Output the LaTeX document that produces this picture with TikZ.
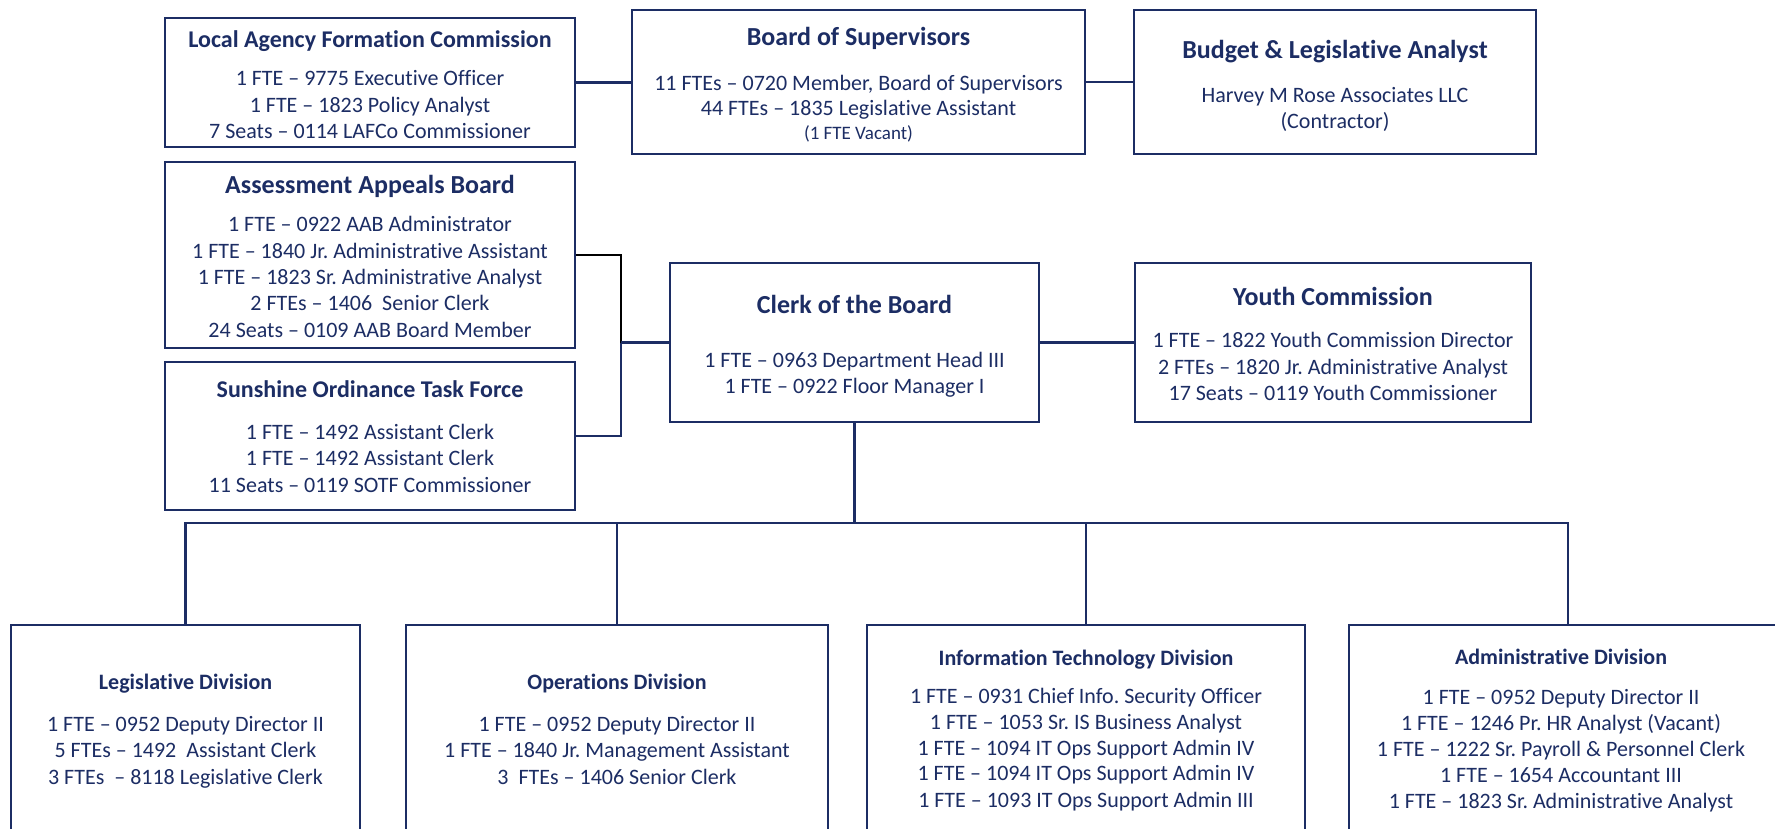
\documentclass[tikz,border=0pt]{standalone}
\usepackage{fontspec}
\setmainfont{Carlito}[Ligatures={NoCommon}]
\definecolor{navy}{RGB}{28,45,100}
\frenchspacing
\begin{document}
\begin{tikzpicture}[x=1pt,y=-1pt,
 box/.style={draw=navy,line width=2.6pt,inner sep=0pt},
 ln/.style={draw=navy,line width=2.2pt},
 ttl/.style={font=\fontsize{26}{30}\selectfont\bfseries,text=navy,anchor=base,inner sep=0pt},
 ttls/.style={ttl,font=\fontsize{24}{28}\selectfont\bfseries},
 dttl/.style={ttl,font=\fontsize{22}{26}\selectfont\bfseries},
 bd/.style={font=\fontsize{22}{26}\selectfont,text=navy,anchor=base,inner sep=0pt},
 sm/.style={bd,font=\fontsize{19}{22}\selectfont}]
\useasboundingbox (0,0) rectangle (1775,828);
\clip (0,0) rectangle (1775,828);
\fill[white] (0,0) rectangle (1775,828);

% boxes
\node[box,minimum width=410pt,minimum height=129pt] (lafc) at (370,82.5) {};
\node[box,minimum width=453pt,minimum height=144pt] (bos) at (858.5,82) {};
\node[box,minimum width=402pt,minimum height=144pt] (bla) at (1335,82) {};
\node[box,minimum width=410pt,minimum height=186pt] (aab) at (370,255) {};
\node[box,minimum width=410pt,minimum height=148pt] (sotf) at (370,436) {};
\node[box,minimum width=369pt,minimum height=159pt] (clerk) at (854.5,342.5) {};
\node[box,minimum width=396pt,minimum height=159pt] (youth) at (1333,342.5) {};
\node[box,minimum width=349pt,minimum height=225pt] (leg) at (185.5,737.5) {};
\node[box,minimum width=422pt,minimum height=225pt] (ops) at (617,737.5) {};
\node[box,minimum width=438pt,minimum height=225pt] (it) at (1086,737.5) {};
\node[box,minimum width=438pt,minimum height=225pt] (adm) at (1568,737.5) {};

% connectors
\draw[ln] (lafc.east) -- (bos.west |- lafc.east);
\draw[ln] (bos.east) -- (bla.west);
\coordinate (jn) at (621,342.5);
\draw[line width=2.2pt,black] (aab.east) -| (jn);
\draw[ln] (jn) |- (sotf.east);
\draw[ln] (jn) -- (clerk.west);
\draw[ln] (clerk.east) -- (youth.west);
\coordinate (bus) at (854.5,523);
\draw[ln] (clerk.south) -- (bus);
\draw[ln] (leg.north) |- (bus);
\draw[ln] (adm.north) |- (bus);
\draw[ln] (ops.north) -- (ops.north |- bus);
\draw[ln] (it.north) -- (it.north |- bus);

% LAFC
\node[ttls] (lafc-t) at (370,47.5) {Local Agency Formation Commission};
\node[bd] (lafc-1) at (370,85) {1 FTE – 9775 Executive Officer};
\node[bd] (lafc-2) at (370,112) {1 FTE – 1823 Policy Analyst};
\node[bd] (lafc-3) at (370,138) {7 Seats – 0114 LAFCo Commissioner};

% BoS
\node[ttl] (bos-t) at (858.5,45) {Board of Supervisors};
\node[bd] (bos-1) at (858.5,90) {11 FTEs – 0720 Member, Board of Supervisors};
\node[bd] (bos-2) at (858.5,115) {44 FTEs – 1835 Legislative Assistant};
\node[sm] (bos-3) at (858.5,139) {(1 FTE Vacant)};

% Budget
\node[ttl] (bla-t) at (1335,58) {Budget \& Legislative Analyst};
\node[bd] (bla-1) at (1335,102) {Harvey M Rose Associates LLC};
\node[bd] (bla-2) at (1335,128) {(Contractor)};

% AAB
\node[ttl] (aab-t) at (370,193) {Assessment Appeals Board};
\node[bd] (aab-1) at (370,231) {1 FTE – 0922 AAB Administrator};
\node[bd] (aab-2) at (370,258) {1 FTE – 1840 Jr. Administrative Assistant};
\node[bd] (aab-3) at (370,284) {1 FTE – 1823 Sr. Administrative Analyst};
\node[bd] (aab-4) at (370,310) {2 FTEs – 1406\ \ Senior Clerk};
\node[bd] (aab-5) at (370,337) {24 Seats – 0109 AAB Board Member};

% SOTF
\node[ttls] (sotf-t) at (370,397) {Sunshine Ordinance Task Force};
\node[bd] (sotf-1) at (370,439) {1 FTE – 1492 Assistant Clerk};
\node[bd] (sotf-2) at (370,465) {1 FTE – 1492 Assistant Clerk};
\node[bd] (sotf-3) at (370,492) {11 Seats – 0119 SOTF Commissioner};

% Clerk
\node[ttl] (clerk-t) at (854.5,313) {Clerk of the Board};
\node[bd] (clerk-1) at (854.5,367) {1 FTE – 0963 Department Head III};
\node[bd] (clerk-2) at (854.5,393) {1 FTE – 0922 Floor Manager I};

% Youth
\node[ttl] (youth-t) at (1333,305) {Youth Commission};
\node[bd] (youth-1) at (1333,347) {1 FTE – 1822 Youth Commission Director};
\node[bd] (youth-2) at (1333,374) {2 FTEs – 1820 Jr. Administrative Analyst};
\node[bd] (youth-3) at (1333,400) {17 Seats – 0119 Youth Commissioner};

% Legislative
\node[dttl] (leg-t) at (185.5,689) {Legislative Division};
\node[bd] (leg-1) at (185.5,731) {1 FTE – 0952 Deputy Director II};
\node[bd] (leg-2) at (185.5,757) {5 FTEs – 1492\ \ Assistant Clerk};
\node[bd] (leg-3) at (185.5,784) {3 FTEs\ \ – 8118 Legislative Clerk};

% Operations
\node[dttl] (ops-t) at (617,689) {Operations Division};
\node[bd] (ops-1) at (617,731) {1 FTE – 0952 Deputy Director II};
\node[bd] (ops-2) at (617,757) {1 FTE – 1840 Jr. Management Assistant};
\node[bd] (ops-3) at (617,784) {3\ \ FTEs – 1406 Senior Clerk};

% IT
\node[dttl] (it-t) at (1086,665) {Information Technology Division};
\node[bd] (it-1) at (1086,703) {1 FTE – 0931 Chief Info. Security Officer};
\node[bd] (it-2) at (1086,729) {1 FTE – 1053 Sr. IS Business Analyst};
\node[bd] (it-3) at (1086,755) {1 FTE – 1094 IT Ops Support Admin IV};
\node[bd] (it-4) at (1086,780) {1 FTE – 1094 IT Ops Support Admin IV};
\node[bd] (it-5) at (1086,807) {1 FTE – 1093 IT Ops Support Admin III};

% Administrative
\node[dttl] (adm-t) at (1561,664) {Administrative Division};
\node[bd] (adm-1) at (1561,704) {1 FTE – 0952 Deputy Director II};
\node[bd] (adm-2) at (1561,730) {1 FTE – 1246 Pr. HR Analyst (Vacant)};
\node[bd] (adm-3) at (1561,756) {1 FTE – 1222 Sr. Payroll \& Personnel Clerk};
\node[bd] (adm-4) at (1561,782) {1 FTE – 1654 Accountant III};
\node[bd] (adm-5) at (1561,808) {1 FTE – 1823 Sr. Administrative Analyst};
\end{tikzpicture}
\end{document}
